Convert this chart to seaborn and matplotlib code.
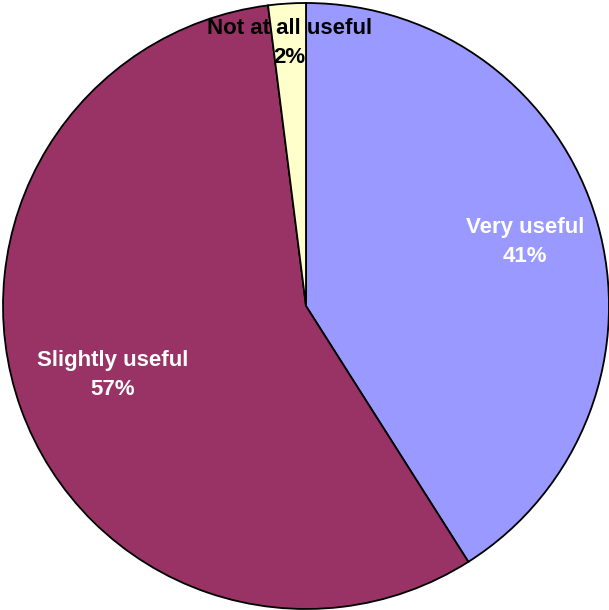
import numpy as np
import matplotlib
matplotlib.use("Agg")
import matplotlib.pyplot as plt
import seaborn as sns

# data
categories = ["Very useful", "Slightly useful", "Not at all useful"]
shares = [41, 57, 2]
colors = ["#9999FF", "#993366", "#FFFFCC"]
label_colors = ["white", "white", "black"]
label_dist = [0.753, 0.677, 0.87]

sns.set_theme(style="white")
plt.rcParams['font.family'] = ['Liberation Sans', 'DejaVu Sans']

fig = plt.figure(figsize=(6.09, 6.10), dpi=100)
ax = fig.add_axes([0, 0, 1, 1])

wedges, _ = ax.pie(shares, colors=sns.color_palette(colors), startangle=90, counterclock=False,
                   radius=1, wedgeprops=dict(edgecolor="black", linewidth=1.3))

total = sum(shares)
for w, cat, s, c, d in zip(wedges, categories, shares, label_colors, label_dist):
    ang = np.deg2rad((w.theta1 + w.theta2) / 2)
    ax.text(d * np.cos(ang), d * np.sin(ang), f"{cat}\n{round(100 * s / total)}%",
            ha="center", va="center", color=c, fontsize=16, fontweight="bold",
            linespacing=1.5, zorder=5)

ax.set_aspect("equal")
ax.set_xlim(-306 / 303, 303 / 303)
ax.set_ylim(-304 / 303, 306 / 303)
ax.axis("off")

plt.savefig("out.png", dpi=100)
